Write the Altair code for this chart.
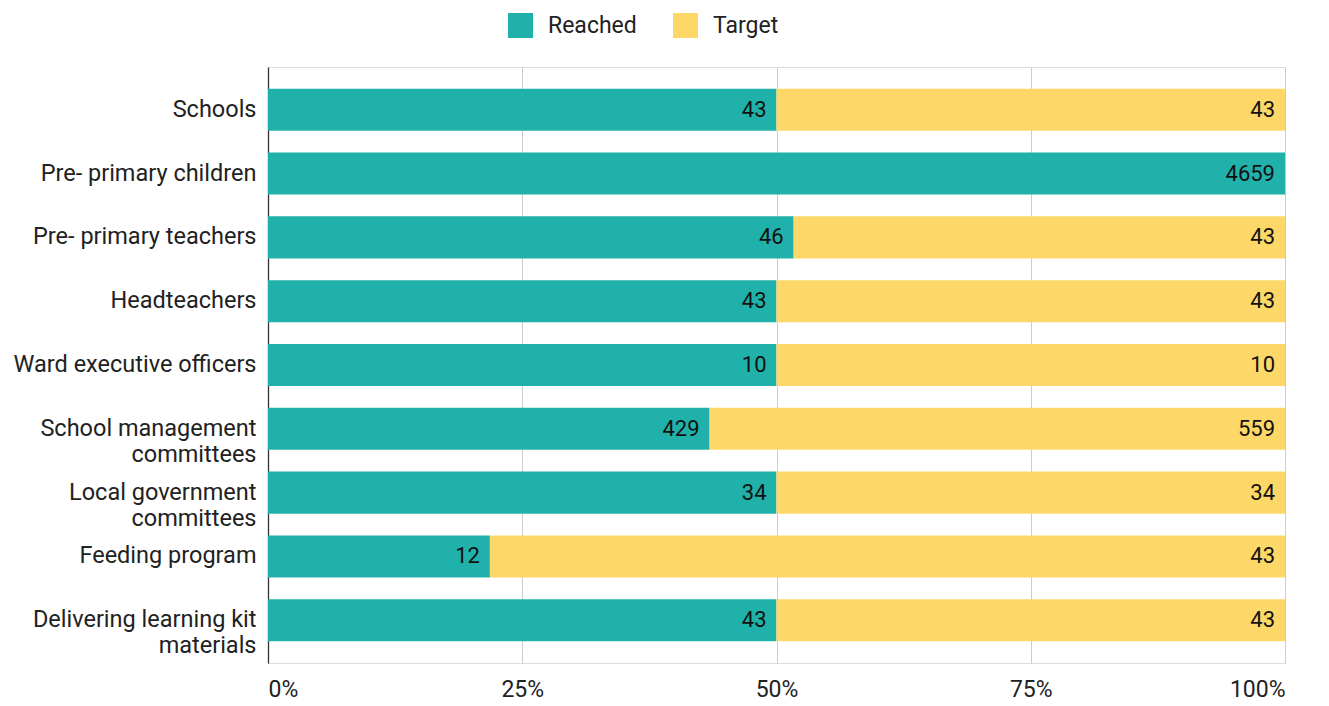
import altair as alt
import pandas as pd

categories = [
    "Schools",
    "Pre- primary children",
    "Pre- primary teachers",
    "Headteachers",
    "Ward executive officers",
    "School management|committees",
    "Local government|committees",
    "Feeding program",
    "Delivering learning kit|materials",
]
reached = [43, 4659, 46, 43, 10, 429, 34, 12, 43]
target = [43, None, 43, 43, 10, 559, 34, 43, 43]
series = ["Reached", "Target"]
colors = ["#20B2AA", "#FDD868"]

rows = []
for c, r, t in zip(categories, reached, target):
    rows.append({"category": c, "series": "Reached", "order": 0, "value": r})
    if t is not None:
        rows.append({"category": c, "series": "Target", "order": 1, "value": t})
df = pd.DataFrame(rows)

base = alt.Chart(df).transform_joinaggregate(
    total="sum(value)", groupby=["category"]
).transform_calculate(
    pct="datum.value / datum.total"
).transform_stack(
    stack="pct", groupby=["category"], as_=["x0", "x1"],
    sort=[alt.SortField("order", order="ascending")]
)

y_enc = alt.Y(
    "category:N", sort=categories, title=None,
    scale=alt.Scale(paddingInner=0.34, paddingOuter=0.34),
    axis=alt.Axis(
        labelExpr="split(datum.label, '|')", labelFontSize=23.5, labelColor="#222222",
        labelFont="Roboto", labelPadding=12, labelLimit=400, ticks=False, domain=True,
        domainColor="#333333", domainWidth=1.3, labelLineHeight=26, grid=False,
    ),
)

bars = base.mark_bar().encode(
    y=y_enc,
    x=alt.X(
        "x0:Q", title=None,
        scale=alt.Scale(domain=[0, 1], nice=False),
        axis=alt.Axis(
            format="%", values=[0, 0.25, 0.5, 0.75, 1], labelFontSize=23,
            labelColor="#222222", labelFont="Roboto", ticks=False, domain=False,
            grid=True, gridColor="#cccccc", labelPadding=15,
        ),
    ),
    x2="x1:Q",
    color=alt.Color(
        "series:N", sort=series,
        scale=alt.Scale(domain=series, range=colors),
        legend=alt.Legend(
            title=None, orient="none", direction="horizontal",
            legendX=240, legendY=-54, symbolType="square", symbolSize=625,
            symbolStrokeWidth=0, labelFontSize=23, labelFont="Roboto",
            labelColor="#222222", columnPadding=36, labelOffset=15,
        ),
    ),
)

labels = base.mark_text(
    align="right", baseline="middle", dx=-10, fontSize=22, font="Roboto", color="#111111"
).encode(
    y=alt.Y("category:N", sort=categories),
    x="x1:Q",
    text="value:Q",
)

chart = (bars + labels).properties(
    width=1017, height=596
).configure_view(stroke=None).configure(font="Roboto")

chart.save("out.html", embed_options={"renderer": "svg", "actions": False})
